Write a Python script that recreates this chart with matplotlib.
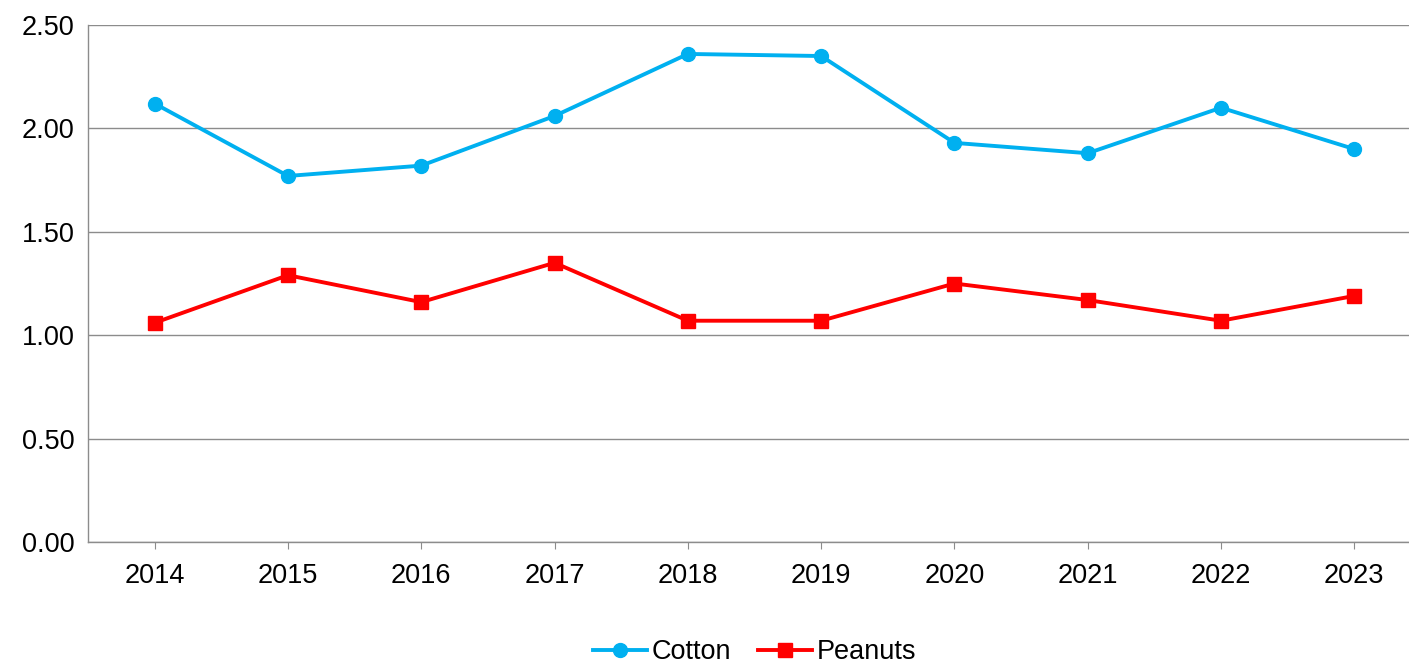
import matplotlib.pyplot as plt

plt.rcParams['font.family'] = ['Liberation Sans', 'DejaVu Sans']

YEARS = ["2014", "2015", "2016", "2017", "2018", "2019", "2020", "2021", "2022", "2023"]
COTTON = [2.12, 1.77, 1.82, 2.06, 2.36, 2.35, 1.93, 1.88, 2.10, 1.90]
PEANUTS = [1.06, 1.29, 1.16, 1.35, 1.07, 1.07, 1.25, 1.17, 1.07, 1.19]
Y_TICKS = [0.0, 0.5, 1.0, 1.5, 2.0, 2.5]

GRID = "#8c8c8c"
FS = 19.5

fig = plt.figure(figsize=(14.09, 6.64), dpi=100)
ax = fig.add_axes([88 / 1409, 1 - 542 / 664, 1 - 88 / 1409, (542 - 25) / 664])

x = range(len(YEARS))
ax.plot(x, COTTON, color="#00B0F0", lw=2.8, marker="o", ms=10, label="Cotton", zorder=3)
ax.plot(x, PEANUTS, color="#FF0000", lw=2.8, marker="s", ms=9.5, label="Peanuts", zorder=3)

ax.set_xlim(-0.5, 9.41)
ax.set_ylim(0, 2.5)
ax.set_xticks(list(x))
ax.set_xticklabels(YEARS)
ax.set_yticks(Y_TICKS)
ax.set_yticklabels([f"{v:.2f}" for v in Y_TICKS])
ax.yaxis.grid(True, color=GRID, lw=1)
ax.set_axisbelow(True)

for side in ("top", "right"):
    ax.spines[side].set_visible(False)
for side in ("left", "bottom"):
    ax.spines[side].set_color(GRID)
    ax.spines[side].set_linewidth(1)

ax.tick_params(axis="y", length=0, pad=9.5, labelsize=FS)
ax.tick_params(axis="x", length=5, color=GRID, pad=10, labelsize=FS)

fig.legend(loc="center", bbox_to_anchor=(0.5355, 1 - 652 / 664), ncol=2, frameon=False,
           fontsize=FS, handlelength=2.0, handletextpad=0.15, columnspacing=1.0)

fig.savefig("out.png", dpi=100)
